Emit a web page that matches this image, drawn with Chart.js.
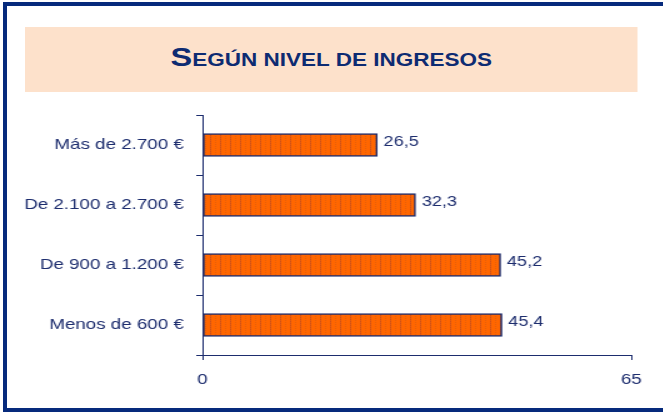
<!DOCTYPE html>
<html lang="es">
<head>
<meta charset="utf-8">
<title>Según nivel de ingresos</title>
<script src="https://cdn.jsdelivr.net/npm/chart.js@4"></script>
<style>
  html, body { margin: 0; padding: 0; background: #fff; }
  body { width: 663px; height: 412px; position: relative; overflow: hidden; }
  .frame { position: absolute; background: #062a7c; }
  /* the drawing is laid out narrow and widened on screen */
  #stage {
    position: absolute; left: 0; top: 0; width: 530px; height: 412px;
    transform: scaleX(1.25); transform-origin: 0 0;
  }
  #titlebox {
    position: absolute; left: 20px; top: 27px; width: 490px; height: 65px;
    background: #fde1cb;
  }
  #title {
    position: absolute; left: 0; right: 0; top: 15px;
    text-align: center; color: #0d2b72;
    font-family: "Liberation Sans", Arial, sans-serif; font-weight: bold;
    font-size: 26px; line-height: 30px;
  }
  #title .sc { font-size: 18px; }
  #chartbox { position: absolute; left: 0; top: 105px; width: 530px; height: 300px; }
</style>
</head>
<body>
<div class="frame" style="left:3px; top:2px; width:660px; height:4px;"></div>
<div class="frame" style="left:3px; top:2px; width:4px; height:410px;"></div>
<div class="frame" style="left:3px; top:408px; width:660px; height:4px;"></div>

<div id="stage">
  <div id="titlebox">
    <div id="title">S<span class="sc">EGÚN NIVEL DE INGRESOS</span></div>
  </div>
  <div id="chartbox"><canvas id="myChart"></canvas></div>
</div>

<script>
const labels = ['Más de 2.700 €', 'De 2.100 a 2.700 €', 'De 900 a 1.200 €', 'Menos de 600 €'];
const values = [26.5, 32.3, 45.2, 45.4];
const xTicks = [0, 65];

const navy = '#1d2d6e';
const fontFamily = '"Liberation Sans", Arial, sans-serif';

// striped orange fill for the bars
function barPattern() {
  const c = document.createElement('canvas');
  c.width = 8; c.height = 4;
  const g = c.getContext('2d');
  g.fillStyle = '#ff6600';
  g.fillRect(0, 0, 8, 4);
  g.fillStyle = '#c9501c';
  g.fillRect(0, 0, 1, 1); g.fillRect(0, 2, 1, 1);
  g.fillStyle = '#de5a12';
  g.fillRect(0, 1, 1, 1); g.fillRect(0, 3, 1, 1);
  g.fillStyle = '#e4600c';
  g.fillRect(4, 1, 1, 1); g.fillRect(4, 3, 1, 1);
  return g.createPattern(c, 'repeat');
}

// value written to the right of each bar, with a decimal comma
const valueLabels = {
  id: 'valueLabels',
  afterDatasetsDraw(chart) {
    const ctx = chart.ctx;
    const meta = chart.getDatasetMeta(0);
    ctx.save();
    ctx.fillStyle = navy;
    ctx.font = '14.5px ' + fontFamily;
    ctx.textAlign = 'left';
    ctx.textBaseline = 'middle';
    meta.data.forEach((bar, i) => {
      const txt = String(values[i]).replace('.', ',');
      ctx.fillText(txt, bar.x + 5, bar.y - 3);
    });
    ctx.restore();
  }
};

window.addEventListener('load', setup);

function setup() {
  const ctx = document.getElementById('myChart').getContext('2d');

  const myChart = new Chart(ctx, {
    type: 'bar',
    data: {
      labels: labels,
      datasets: [
        {
          data: values,
          backgroundColor: barPattern(),
          borderColor: navy,
          borderWidth: 1.5,
          borderSkipped: false,
          barThickness: 23
        }
      ]
    },
    options: {
      indexAxis: 'y',
      responsive: true,
      maintainAspectRatio: false,
      animation: false,
      layout: { padding: { top: 10, right: 25, bottom: 20, left: 0 } },
      plugins: {
        legend: { display: false },
        tooltip: { enabled: false }
      },
      scales: {
        x: {
          min: 0,
          max: 65,
          afterBuildTicks: scale => { scale.ticks = xTicks.map(v => ({ value: v })); },
          afterFit: scale => { scale.height = 30; },
          grid: { drawOnChartArea: false, tickLength: 5, tickColor: navy, tickWidth: 1 },
          border: { color: navy, width: 1 },
          ticks: {
            color: navy,
            font: { family: fontFamily, size: 15 },
            padding: 11,
            autoSkip: false,
            maxRotation: 0
          }
        },
        y: {
          afterFit: scale => {
            scale.width = 162;
            scale.paddingTop = 0;
            scale.paddingBottom = 0;
          },
          grid: { offset: true, drawOnChartArea: false, tickLength: 5, tickColor: navy, tickWidth: 1 },
          border: { color: navy, width: 1 },
          ticks: {
            color: navy,
            font: { family: fontFamily, size: 15 },
            padding: 10
          }
        }
      }
    },
    plugins: [valueLabels]
  });
}
</script>
</body>
</html>
